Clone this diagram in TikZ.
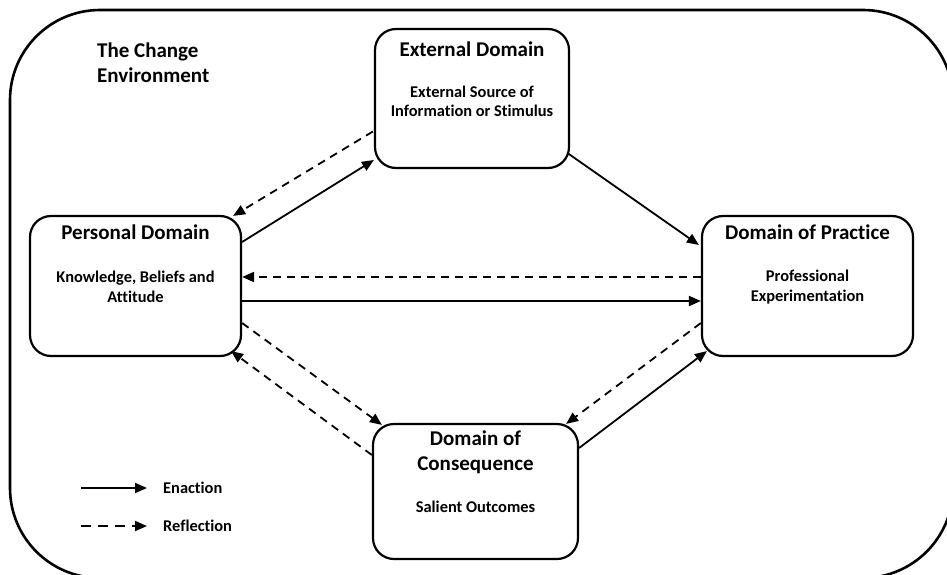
\documentclass[tikz,border=0pt]{standalone}
\usepackage{fontspec}
\setmainfont{Carlito}[Ligatures={NoCommon}]
\usetikzlibrary{arrows.meta,calc}
\begin{document}
\begin{tikzpicture}[x=1pt,y=-1pt,
  domainbox/.style={draw=black,line width=2.2pt,rounded corners=21pt,inner sep=0pt},
  dtitle/.style={font=\bfseries\fontsize{21}{25}\selectfont,align=center,inner sep=0pt},
  dsub/.style={font=\bfseries\fontsize{16.4}{19.5}\selectfont,align=center,inner sep=0pt},
  legendtext/.style={font=\bfseries\fontsize{16.4}{19}\selectfont,anchor=west,inner sep=0pt},
  enact/.style={line width=1.8pt,-{Triangle[length=12pt,width=10pt]}},
  reflect/.style={enact,dash pattern=on 8pt off 6pt}]
\clip (0,0) rectangle (947,575);
\fill[white] (0,0) rectangle (947,575);
% the surrounding environment
\draw[line width=2.6pt,rounded corners=90pt] (10,10) rectangle (953,578);
\node[dtitle,anchor=west,align=left] (envlabel) at (97,63) {The Change\\Environment};

% the four domains
\node[domainbox,minimum width=194pt,minimum height=139pt] (ext) at (472,98.5) {};
\node[domainbox,minimum width=211pt,minimum height=140pt] (pers) at (135.5,286) {};
\node[domainbox,minimum width=211pt,minimum height=140pt] (prac) at (807.5,286) {};
\node[domainbox,minimum width=205pt,minimum height=135pt] (cons) at (475.5,491.5) {};

\node[dtitle] (ext-t) at ($(ext.north)+(0,21)$) {External Domain};
\node[dsub] (ext-s) at ($(ext.north)+(0,73.5)$) {External Source of\\Information or Stimulus};
\node[dtitle] (pers-t) at ($(pers.north)+(0,17)$) {Personal Domain};
\node[dsub] (pers-s) at ($(pers.north)+(0,72)$) {Knowledge, Beliefs and\\Attitude};
\node[dtitle] (prac-t) at ($(prac.north)+(0,17)$) {Domain of Practice};
\node[dsub] (prac-s) at ($(prac.north)+(0,72)$) {Professional\\Experimentation};
\node[dtitle] (cons-t) at ($(cons.north)+(0,29)$) {Domain of\\Consequence};
\node[dsub] (cons-s) at ($(cons.north)+(0,83.5)$) {Salient Outcomes};

% connectors
\draw[enact] ($(pers.east)+(0,-44)$) -- ($(ext.west)+(0,61.5)$);
\draw[reflect] ($(ext.west)+(-1,33)$) -- ($(pers.north east)+(-9,1)$);
\draw[enact] ($(ext.east)+(-2,55)$) -- ($(prac.west)+(-2,-41)$);
\draw[reflect] ($(prac.west)+(0,-9)$) -- ($(pers.east)+(0,-9)$);
\draw[enact] ($(pers.east)+(0,15)$) -- ($(prac.west)+(0,15)$);
\draw[reflect] ($(pers.east)+(0,37)$) -- ($(cons.north west)+(10,2)$);
\draw[reflect] ($(cons.west)+(0,-36.5)$) -- ($(pers.south east)+(-11,-6)$);
\draw[enact] ($(cons.east)+(0,-43.5)$) -- ($(prac.south west)+(6,-6)$);
\draw[reflect] ($(prac.west)+(0,37)$) -- ($(cons.north east)+(-13,1)$);

% legend
\coordinate (la1) at (81,488);
\coordinate (la2) at (147,488);
\coordinate (lb1) at (81,526);
\coordinate (lb2) at (147,526);
\draw[enact] (la1) -- (la2);
\draw[reflect,dash pattern=on 10pt off 7pt] (lb1) -- (lb2);
\node[legendtext] (enaction) at (163,488) {Enaction};
\node[legendtext] (reflection) at (163,526) {Reflection};
\end{tikzpicture}
\end{document}
